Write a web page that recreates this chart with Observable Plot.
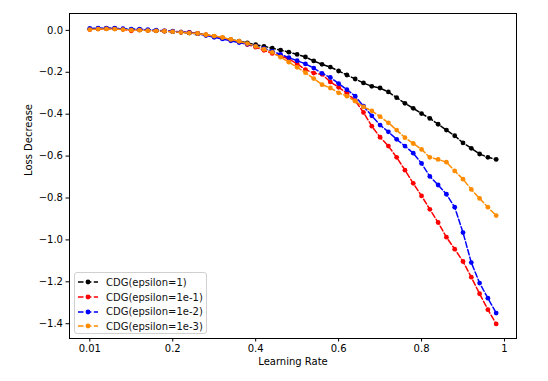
<!DOCTYPE html>
<html>
<head>
<meta charset="utf-8">
<script src="https://cdn.jsdelivr.net/npm/d3@7"></script>
<script src="https://cdn.jsdelivr.net/npm/@observablehq/plot@0.6"></script>
<style>
  body { margin: 0; background: #fff; }
  #wrap { position: relative; width: 548px; height: 381px; font-family: "DejaVu Sans", sans-serif; }
  #legend { position: absolute; left: 74px; top: 272px; width: 133px; height: 62px;
    border: 1px solid #d0d0d0; border-radius: 3px; background: rgba(255,255,255,0.85);
    font-size: 10px; color: #111; box-sizing: border-box; padding-top: 2px; white-space: nowrap; }
  .row { display: flex; align-items: center; height: 14.7px; white-space: nowrap; }
  .row svg { margin-left: 2px; margin-right: 7px; flex: none; }
  .row span { white-space: nowrap; }
</style>
</head>
<body>
<div id="wrap"><div id="chart"></div><div id="legend"></div></div>
<script>
// Learning-rate positions (x) and labels
const lr = [0.00,0.02,0.04,0.06,0.08,0.10,0.12,0.14,0.16,0.18,
            0.20,0.22,0.24,0.26,0.28,0.30,0.32,0.34,0.36,0.38,
            0.40,0.42,0.44,0.46,0.48,0.50,0.52,0.54,0.56,0.58,
            0.60,0.62,0.64,0.66,0.68,0.70,0.72,0.74,0.76,0.78,
            0.80,0.82,0.84,0.86,0.88,0.90,0.92,0.94,0.96,0.98];
const xTicks = [0, 0.2, 0.4, 0.6, 0.8, 1.0];
const xTickLabels = ["0.01", "0.2", "0.4", "0.6", "0.8", "1"];
const yTicks = [0.0, -0.2, -0.4, -0.6, -0.8, -1.0, -1.2, -1.4];

const seriesNames = ["CDG(epsilon=1)", "CDG(epsilon=1e-1)", "CDG(epsilon=1e-2)", "CDG(epsilon=1e-3)"];
const seriesColors = ["#000000", "#ff0000", "#0000ff", "#ff8c00"];

const eps1 = [0.006,0.008,0.009,0.008,0.006,0.004,0.002,0.000,-0.002,-0.004,
  -0.006,-0.009,-0.012,-0.016,-0.022,-0.029,-0.036,-0.044,-0.052,-0.060,
  -0.068,-0.076,-0.085,-0.094,-0.104,-0.115,-0.127,-0.146,-0.162,-0.175,
  -0.194,-0.213,-0.232,-0.251,-0.267,-0.275,-0.294,-0.321,-0.348,-0.372,
  -0.397,-0.420,-0.448,-0.476,-0.503,-0.537,-0.563,-0.590,-0.606,-0.616];
const eps1e1 = [0.004,0.007,0.008,0.009,0.005,-0.002,0.003,0.000,-0.001,-0.003,
  -0.005,-0.008,-0.010,-0.015,-0.022,-0.030,-0.038,-0.047,-0.056,-0.068,
  -0.080,-0.095,-0.110,-0.122,-0.137,-0.160,-0.187,-0.204,-0.210,-0.246,
  -0.272,-0.300,-0.335,-0.392,-0.457,-0.510,-0.552,-0.606,-0.667,-0.730,
  -0.790,-0.854,-0.917,-0.987,-1.044,-1.103,-1.178,-1.257,-1.333,-1.401];
const eps1e2 = [0.009,0.010,0.011,0.010,0.008,0.006,0.006,0.003,0.001,-0.002,
  -0.004,-0.008,-0.011,-0.016,-0.024,-0.033,-0.041,-0.050,-0.058,-0.066,
  -0.075,-0.086,-0.100,-0.115,-0.130,-0.145,-0.160,-0.180,-0.205,-0.225,
  -0.254,-0.283,-0.314,-0.362,-0.408,-0.452,-0.484,-0.520,-0.552,-0.586,
  -0.635,-0.697,-0.738,-0.782,-0.844,-0.965,-1.108,-1.206,-1.278,-1.349];
const eps1e3 = [0.004,0.006,0.007,0.006,0.004,0.001,0.001,-0.001,-0.002,-0.004,
  -0.006,-0.010,-0.013,-0.015,-0.021,-0.027,-0.034,-0.043,-0.052,-0.063,
  -0.076,-0.090,-0.105,-0.128,-0.152,-0.176,-0.202,-0.230,-0.259,-0.275,
  -0.298,-0.314,-0.338,-0.365,-0.384,-0.412,-0.441,-0.476,-0.512,-0.540,
  -0.568,-0.606,-0.616,-0.629,-0.671,-0.710,-0.759,-0.802,-0.844,-0.884];

const allSeries = [eps1, eps1e1, eps1e2, eps1e3];
const font = "DejaVu Sans, sans-serif";

const marks = [];
allSeries.forEach((vals, s) => {
  const data = lr.map((x, i) => ({x, y: vals[i]}));
  marks.push(Plot.line(data, {x: "x", y: "y", stroke: seriesColors[s], strokeWidth: 1.5,
    strokeDasharray: "5.5,2.4"}));
  marks.push(Plot.dot(data, {x: "x", y: "y", fill: seriesColors[s], r: 2.4, stroke: "none"}));
});

const chart = Plot.plot({
  width: 548,
  height: 381,
  marginLeft: 69,
  marginRight: 32,
  marginTop: 13,
  marginBottom: 43,
  style: {fontFamily: font, fontSize: "10px", color: "#000", background: "#fff"},
  x: {domain: [-0.049, 1.029]},
  y: {domain: [-1.4705, 0.0805]},
  marks: [
    ...marks,
    Plot.axisX({ticks: xTicks, tickFormat: d => xTickLabels[xTicks.indexOf(d)], tickSize: 3.5,
      tickPadding: 3, fontSize: 10, label: null, stroke: "#000"}),
    Plot.axisY({ticks: yTicks, tickFormat: d3.format(".1f"), tickSize: 3.5,
      tickPadding: 3, fontSize: 10, label: null, stroke: "#000"}),
    Plot.frame({stroke: "#000", strokeWidth: 1}),
    Plot.text(["Learning Rate"], {frameAnchor: "bottom", dy: 26, fontSize: 10, fill: "#000"}),
    Plot.text(["Loss Decrease"], {frameAnchor: "left", dx: -41, rotate: -90, fontSize: 10, fill: "#000"})
  ]
});
document.getElementById("chart").appendChild(chart);

const legend = document.getElementById("legend");
seriesNames.forEach((name, s) => {
  const row = document.createElement("div");
  row.className = "row";
  row.innerHTML = `<svg width="22" height="8"><line x1="1" y1="4" x2="21" y2="4" stroke="${seriesColors[s]}" stroke-width="1.5" stroke-dasharray="5.5,2.4"/><circle cx="11" cy="4" r="2.4" fill="${seriesColors[s]}"/></svg><span>${name}</span>`;
  legend.appendChild(row);
});
</script>
</body>
</html>
